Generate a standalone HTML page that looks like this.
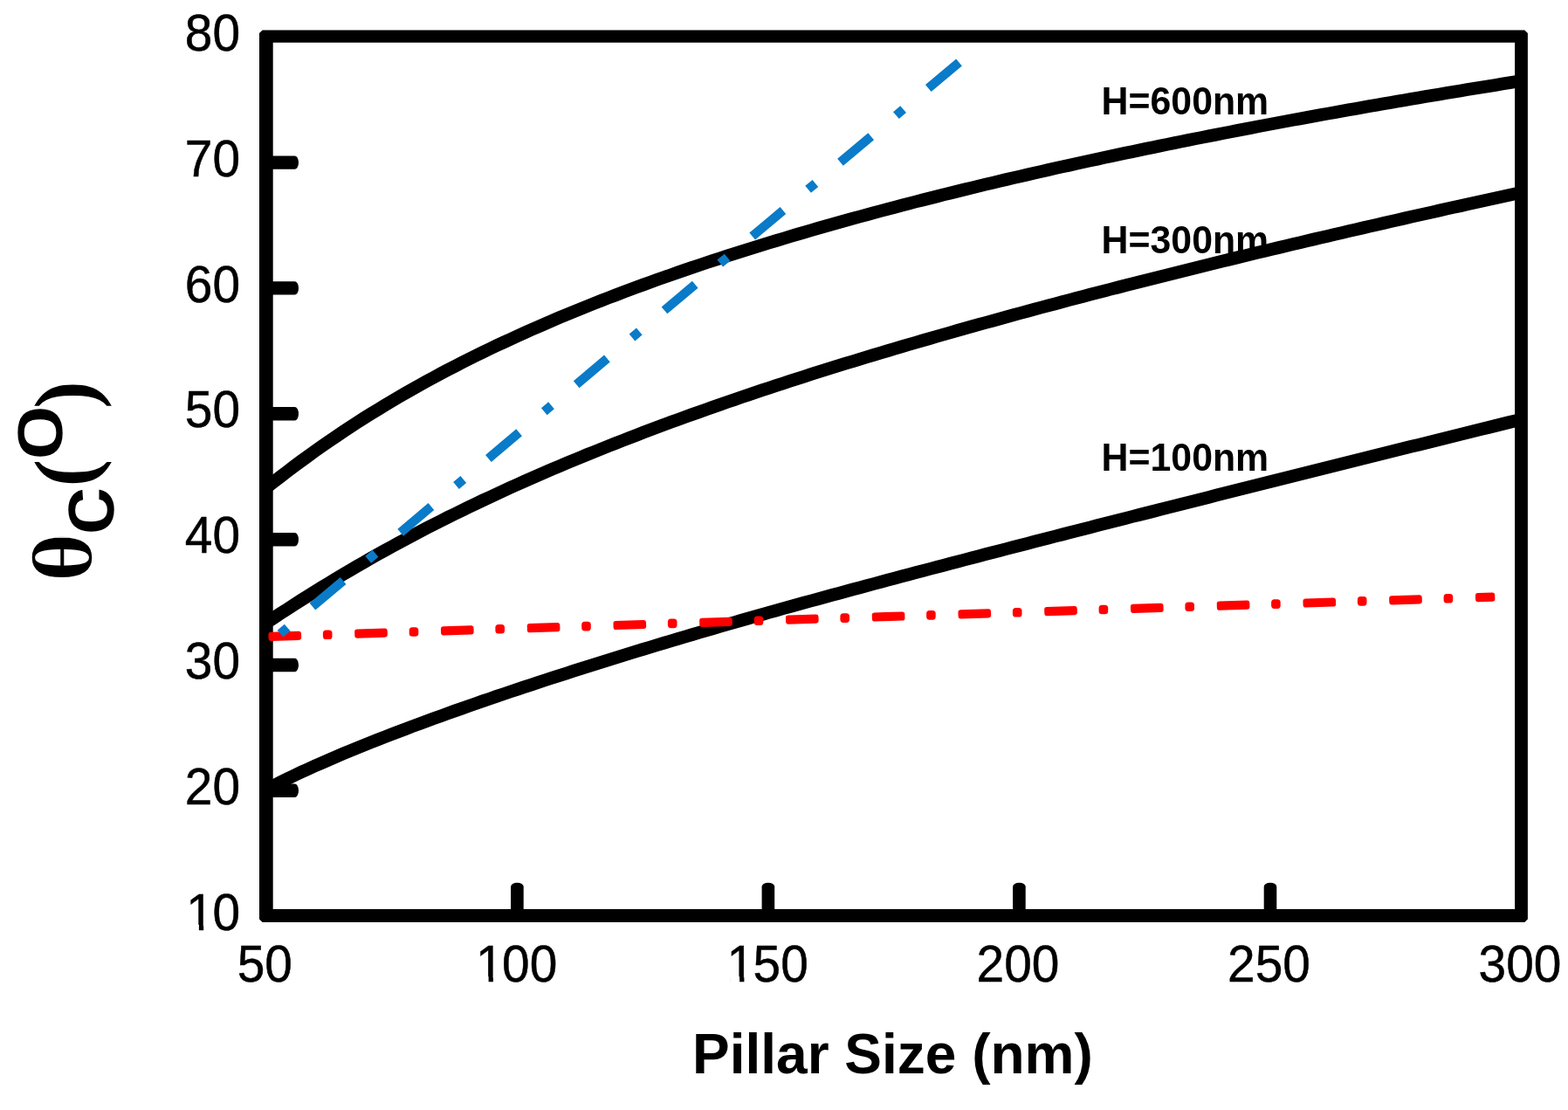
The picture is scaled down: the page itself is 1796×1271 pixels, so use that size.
<!DOCTYPE html>
<html lang="en">
<head>
<meta charset="utf-8">
<title>Critical angle versus pillar size</title>
<style>
html,body{margin:0;padding:0;background:#fff;}
body{width:1796px;height:1271px;overflow:hidden;}
svg{display:block;filter:blur(0.55px);}
text{font-family:"Liberation Sans",Arial,Helvetica,sans-serif;fill:#000;}
.tick{font-size:60px;}
.xl{font-size:64.5px;font-weight:bold;}
.lab{font-size:43.6px;font-weight:bold;}
</style>
</head>
<body>
<svg width="1796" height="1271" viewBox="0 0 1796 1271">
<rect x="0" y="0" width="1796" height="1271" fill="#ffffff"/>
<g class="lab">
<text x="1261.6" y="130.8" textLength="191.6" lengthAdjust="spacingAndGlyphs">H=600nm</text>
<text x="1261.6" y="290.2" textLength="191.6" lengthAdjust="spacingAndGlyphs">H=300nm</text>
<text x="1261.6" y="539.0" textLength="191.6" lengthAdjust="spacingAndGlyphs">H=100nm</text>
</g>
<g stroke="#000" stroke-width="14.7" fill="none" stroke-linejoin="round" stroke-linecap="butt">
<path d="M304.9,904.1 L312.9,899.9 L320.9,895.8 L328.9,891.9 L336.9,888.0 L344.9,884.2 L352.9,880.6 L360.9,876.9 L368.9,873.4 L376.9,869.9 L384.9,866.5 L392.9,863.1 L400.9,859.8 L408.9,856.5 L416.9,853.2 L424.9,850.0 L432.9,846.9 L440.9,843.7 L448.9,840.7 L456.9,837.6 L464.9,834.6 L472.9,831.5 L480.9,828.6 L488.9,825.6 L496.9,822.7 L504.9,819.8 L512.9,816.9 L520.9,814.0 L528.9,811.2 L536.9,808.4 L544.9,805.6 L552.9,802.8 L560.9,800.1 L568.9,797.3 L576.9,794.6 L584.9,791.9 L592.9,789.2 L600.9,786.5 L608.9,783.9 L616.9,781.3 L624.9,778.6 L632.9,776.0 L640.9,773.4 L648.9,770.9 L656.9,768.3 L664.9,765.7 L672.9,763.2 L680.9,760.7 L688.9,758.2 L696.9,755.7 L704.9,753.2 L712.9,750.7 L720.9,748.3 L728.9,745.8 L736.9,743.4 L744.9,741.0 L752.9,738.5 L760.9,736.1 L768.9,733.7 L776.9,731.4 L784.9,729.0 L792.9,726.6 L800.9,724.3 L808.9,721.9 L816.9,719.6 L824.9,717.3 L832.9,715.0 L840.9,712.7 L848.9,710.4 L856.9,708.1 L864.9,705.8 L872.9,703.6 L880.9,701.3 L888.9,699.1 L896.9,696.8 L904.9,694.6 L912.9,692.4 L920.9,690.2 L928.9,688.0 L936.9,685.8 L944.9,683.6 L952.9,681.4 L960.9,679.3 L968.9,677.1 L976.9,674.9 L984.9,672.8 L992.9,670.6 L1000.9,668.5 L1008.9,666.3 L1016.9,664.2 L1024.8,662.1 L1032.8,659.9 L1040.8,657.8 L1048.8,655.7 L1056.8,653.6 L1064.8,651.5 L1072.8,649.4 L1080.8,647.3 L1088.8,645.2 L1096.8,643.1 L1104.8,641.0 L1112.8,638.9 L1120.8,636.8 L1128.8,634.7 L1136.8,632.6 L1144.8,630.6 L1152.8,628.5 L1160.8,626.4 L1168.8,624.3 L1176.8,622.3 L1184.8,620.2 L1192.8,618.2 L1200.8,616.1 L1208.8,614.0 L1216.8,612.0 L1224.8,609.9 L1232.8,607.9 L1240.8,605.8 L1248.8,603.8 L1256.8,601.7 L1264.8,599.7 L1272.8,597.7 L1280.8,595.6 L1288.8,593.6 L1296.8,591.5 L1304.8,589.5 L1312.8,587.5 L1320.8,585.5 L1328.8,583.4 L1336.8,581.4 L1344.8,579.4 L1352.8,577.3 L1360.8,575.3 L1368.8,573.3 L1376.8,571.3 L1384.8,569.3 L1392.8,567.2 L1400.8,565.2 L1408.8,563.2 L1416.8,561.2 L1424.8,559.2 L1432.8,557.2 L1440.8,555.2 L1448.8,553.2 L1456.8,551.1 L1464.8,549.1 L1472.8,547.1 L1480.8,545.1 L1488.8,543.1 L1496.8,541.1 L1504.8,539.1 L1512.8,537.1 L1520.8,535.1 L1528.8,533.1 L1536.8,531.1 L1544.8,529.1 L1552.8,527.1 L1560.8,525.2 L1568.8,523.2 L1576.8,521.2 L1584.8,519.2 L1592.8,517.2 L1600.8,515.2 L1608.8,513.2 L1616.8,511.2 L1624.8,509.3 L1632.8,507.3 L1640.8,505.3 L1648.8,503.3 L1656.8,501.3 L1664.8,499.3 L1672.8,497.4 L1680.8,495.4 L1688.8,493.4 L1696.8,491.4 L1704.8,489.5 L1712.8,487.5 L1720.8,485.5 L1728.8,483.5 L1736.8,481.6 L1742.5,480.2"/>
<path d="M304.9,713.2 L312.9,708.0 L320.9,702.7 L328.9,697.6 L336.9,692.4 L344.9,687.3 L352.9,682.3 L360.9,677.3 L368.9,672.3 L376.9,667.4 L384.9,662.6 L392.9,657.8 L400.9,653.1 L408.9,648.4 L416.9,643.8 L424.9,639.2 L432.9,634.7 L440.9,630.3 L448.9,625.9 L456.9,621.5 L464.9,617.2 L472.9,613.0 L480.9,608.8 L488.9,604.6 L496.9,600.5 L504.9,596.5 L512.9,592.4 L520.9,588.5 L528.9,584.6 L536.9,580.7 L544.9,576.8 L552.9,573.0 L560.9,569.3 L568.9,565.6 L576.9,561.9 L584.9,558.2 L592.9,554.6 L600.9,551.0 L608.9,547.5 L616.9,544.0 L624.9,540.5 L632.9,537.1 L640.9,533.7 L648.9,530.3 L656.9,527.0 L664.9,523.7 L672.9,520.4 L680.9,517.2 L688.9,514.0 L696.9,510.8 L704.9,507.6 L712.9,504.5 L720.9,501.4 L728.9,498.3 L736.9,495.2 L744.9,492.2 L752.9,489.2 L760.9,486.2 L768.9,483.2 L776.9,480.3 L784.9,477.4 L792.9,474.5 L800.9,471.7 L808.9,468.8 L816.9,466.0 L824.9,463.2 L832.9,460.4 L840.9,457.7 L848.9,454.9 L856.9,452.2 L864.9,449.5 L872.9,446.8 L880.9,444.2 L888.9,441.5 L896.9,438.9 L904.9,436.3 L912.9,433.7 L920.9,431.2 L928.9,428.6 L936.9,426.1 L944.9,423.6 L952.9,421.1 L960.9,418.6 L968.9,416.1 L976.9,413.7 L984.9,411.2 L992.9,408.8 L1000.9,406.4 L1008.9,404.0 L1016.9,401.6 L1024.8,399.2 L1032.8,396.9 L1040.8,394.5 L1048.8,392.2 L1056.8,389.9 L1064.8,387.6 L1072.8,385.3 L1080.8,383.0 L1088.8,380.7 L1096.8,378.4 L1104.8,376.2 L1112.8,373.9 L1120.8,371.7 L1128.8,369.5 L1136.8,367.3 L1144.8,365.1 L1152.8,362.9 L1160.8,360.7 L1168.8,358.5 L1176.8,356.3 L1184.8,354.2 L1192.8,352.0 L1200.8,349.9 L1208.8,347.8 L1216.8,345.6 L1224.8,343.5 L1232.8,341.4 L1240.8,339.3 L1248.8,337.2 L1256.8,335.2 L1264.8,333.1 L1272.8,331.0 L1280.8,329.0 L1288.8,326.9 L1296.8,324.9 L1304.8,322.8 L1312.8,320.8 L1320.8,318.8 L1328.8,316.8 L1336.8,314.8 L1344.8,312.8 L1352.8,310.8 L1360.8,308.8 L1368.8,306.8 L1376.8,304.8 L1384.8,302.9 L1392.8,300.9 L1400.8,298.9 L1408.8,297.0 L1416.8,295.0 L1424.8,293.1 L1432.8,291.2 L1440.8,289.2 L1448.8,287.3 L1456.8,285.4 L1464.8,283.5 L1472.8,281.6 L1480.8,279.7 L1488.8,277.8 L1496.8,275.9 L1504.8,274.0 L1512.8,272.2 L1520.8,270.3 L1528.8,268.4 L1536.8,266.6 L1544.8,264.7 L1552.8,262.9 L1560.8,261.0 L1568.8,259.2 L1576.8,257.3 L1584.8,255.5 L1592.8,253.7 L1600.8,251.9 L1608.8,250.0 L1616.8,248.2 L1624.8,246.4 L1632.8,244.6 L1640.8,242.8 L1648.8,241.0 L1656.8,239.2 L1664.8,237.4 L1672.8,235.7 L1680.8,233.9 L1688.8,232.1 L1696.8,230.3 L1704.8,228.6 L1712.8,226.8 L1720.8,225.1 L1728.8,223.3 L1736.8,221.6 L1742.5,220.3"/>
<path d="M304.9,558.5 L312.9,552.3 L320.9,546.1 L328.9,540.0 L336.9,533.9 L344.9,528.0 L352.9,522.2 L360.9,516.4 L368.9,510.8 L376.9,505.2 L384.9,499.8 L392.9,494.4 L400.9,489.1 L408.9,483.9 L416.9,478.8 L424.9,473.8 L432.9,468.9 L440.9,464.0 L448.9,459.2 L456.9,454.5 L464.9,449.9 L472.9,445.3 L480.9,440.9 L488.9,436.4 L496.9,432.1 L504.9,427.8 L512.9,423.6 L520.9,419.4 L528.9,415.3 L536.9,411.3 L544.9,407.3 L552.9,403.4 L560.9,399.5 L568.9,395.7 L576.9,392.0 L584.9,388.3 L592.9,384.6 L600.9,381.0 L608.9,377.4 L616.9,373.9 L624.9,370.4 L632.9,367.0 L640.9,363.6 L648.9,360.3 L656.9,357.0 L664.9,353.7 L672.9,350.5 L680.9,347.3 L688.9,344.1 L696.9,341.0 L704.9,338.0 L712.9,334.9 L720.9,331.9 L728.9,328.9 L736.9,326.0 L744.9,323.1 L752.9,320.2 L760.9,317.4 L768.9,314.6 L776.9,311.8 L784.9,309.0 L792.9,306.3 L800.9,303.6 L808.9,300.9 L816.9,298.3 L824.9,295.7 L832.9,293.1 L840.9,290.5 L848.9,287.9 L856.9,285.4 L864.9,282.9 L872.9,280.4 L880.9,278.0 L888.9,275.6 L896.9,273.2 L904.9,270.8 L912.9,268.4 L920.9,266.1 L928.9,263.7 L936.9,261.4 L944.9,259.1 L952.9,256.9 L960.9,254.6 L968.9,252.4 L976.9,250.2 L984.9,248.0 L992.9,245.8 L1000.9,243.7 L1008.9,241.5 L1016.9,239.4 L1024.8,237.3 L1032.8,235.2 L1040.8,233.1 L1048.8,231.0 L1056.8,229.0 L1064.8,227.0 L1072.8,225.0 L1080.8,222.9 L1088.8,221.0 L1096.8,219.0 L1104.8,217.0 L1112.8,215.1 L1120.8,213.1 L1128.8,211.2 L1136.8,209.3 L1144.8,207.4 L1152.8,205.5 L1160.8,203.7 L1168.8,201.8 L1176.8,200.0 L1184.8,198.1 L1192.8,196.3 L1200.8,194.5 L1208.8,192.7 L1216.8,190.9 L1224.8,189.2 L1232.8,187.4 L1240.8,185.6 L1248.8,183.9 L1256.8,182.2 L1264.8,180.4 L1272.8,178.7 L1280.8,177.0 L1288.8,175.3 L1296.8,173.7 L1304.8,172.0 L1312.8,170.3 L1320.8,168.7 L1328.8,167.0 L1336.8,165.4 L1344.8,163.8 L1352.8,162.1 L1360.8,160.5 L1368.8,158.9 L1376.8,157.4 L1384.8,155.8 L1392.8,154.2 L1400.8,152.6 L1408.8,151.1 L1416.8,149.5 L1424.8,148.0 L1432.8,146.5 L1440.8,144.9 L1448.8,143.4 L1456.8,141.9 L1464.8,140.4 L1472.8,138.9 L1480.8,137.4 L1488.8,136.0 L1496.8,134.5 L1504.8,133.0 L1512.8,131.6 L1520.8,130.1 L1528.8,128.7 L1536.8,127.3 L1544.8,125.8 L1552.8,124.4 L1560.8,123.0 L1568.8,121.6 L1576.8,120.2 L1584.8,118.8 L1592.8,117.4 L1600.8,116.0 L1608.8,114.7 L1616.8,113.3 L1624.8,111.9 L1632.8,110.6 L1640.8,109.2 L1648.8,107.9 L1656.8,106.6 L1664.8,105.2 L1672.8,103.9 L1680.8,102.6 L1688.8,101.3 L1696.8,100.0 L1704.8,98.7 L1712.8,97.4 L1720.8,96.1 L1728.8,94.8 L1736.8,93.5 L1742.5,92.6"/>
</g>
<path d="M300.6,34.4 H1746.3000000000002 L1749.9,38.0 V1052.4 L1746.3000000000002,1056.0 H300.6 L297.0,1052.4 V38.0 Z M312.7,48.7 V1041.0 H1735.1 V48.7 Z" fill="#000" fill-rule="evenodd"/>
<g fill="#000">
<path d="M585.1,1042.0 V1015.2 A7.3,4.4 0 0 1 599.7,1015.2 V1042.0 Z"/>
<path d="M872.6,1042.0 V1015.2 A7.3,4.4 0 0 1 887.2,1015.2 V1042.0 Z"/>
<path d="M1160.1,1042.0 V1015.2 A7.3,4.4 0 0 1 1174.7,1015.2 V1042.0 Z"/>
<path d="M1447.7,1042.0 V1015.2 A7.3,4.4 0 0 1 1462.3,1015.2 V1042.0 Z"/>
<path d="M311.7,897.6 H337.6 A4.4,7.7 0 0 1 337.6,913.1 H311.7 Z"/>
<path d="M311.7,753.8 H337.6 A4.4,7.7 0 0 1 337.6,769.2 H311.7 Z"/>
<path d="M311.7,610.0 H337.6 A4.4,7.7 0 0 1 337.6,625.4 H311.7 Z"/>
<path d="M311.7,466.1 H337.6 A4.4,7.7 0 0 1 337.6,481.5 H311.7 Z"/>
<path d="M311.7,322.2 H337.6 A4.4,7.7 0 0 1 337.6,337.6 H311.7 Z"/>
<path d="M311.7,178.4 H337.6 A4.4,7.7 0 0 1 337.6,193.8 H311.7 Z"/>
</g>
<g fill="#ff0000">
<rect x="307.5" y="723.2" width="37.6" height="10.2" rx="3" transform="rotate(-1.85 326.3 728.3)"/>
<rect x="369.9" y="721.4" width="10.6" height="10.6" rx="3.6"/>
<rect x="406.2" y="720.0" width="37.6" height="10.2" rx="3" transform="rotate(-1.85 425.1 725.1)"/>
<rect x="468.7" y="718.2" width="10.6" height="10.6" rx="3.6"/>
<rect x="505.0" y="716.8" width="37.6" height="10.2" rx="3" transform="rotate(-1.85 523.8 721.9)"/>
<rect x="567.4" y="715.0" width="10.6" height="10.6" rx="3.6"/>
<rect x="603.8" y="713.6" width="37.6" height="10.2" rx="3" transform="rotate(-1.85 622.5 718.7)"/>
<rect x="666.2" y="711.8" width="10.6" height="10.6" rx="3.6"/>
<rect x="702.5" y="710.4" width="37.6" height="10.2" rx="3" transform="rotate(-1.85 721.3 715.5)"/>
<rect x="764.9" y="708.6" width="10.6" height="10.6" rx="3.6"/>
<rect x="801.2" y="707.2" width="37.6" height="10.2" rx="3" transform="rotate(-1.85 820.0 712.3)"/>
<rect x="863.7" y="705.5" width="10.6" height="10.6" rx="3.6"/>
<rect x="900.0" y="704.0" width="37.6" height="10.2" rx="3" transform="rotate(-1.85 918.8 709.1)"/>
<rect x="962.4" y="702.3" width="10.6" height="10.6" rx="3.6"/>
<rect x="998.8" y="700.9" width="37.6" height="10.2" rx="3" transform="rotate(-1.85 1017.5 706.0)"/>
<rect x="1061.1" y="699.1" width="10.6" height="10.6" rx="3.6"/>
<rect x="1097.5" y="697.7" width="37.6" height="10.2" rx="3" transform="rotate(-1.85 1116.3 702.8)"/>
<rect x="1159.9" y="695.9" width="10.6" height="10.6" rx="3.6"/>
<rect x="1196.2" y="694.5" width="37.6" height="10.2" rx="3" transform="rotate(-1.85 1215.0 699.6)"/>
<rect x="1258.6" y="692.7" width="10.6" height="10.6" rx="3.6"/>
<rect x="1295.0" y="691.3" width="37.6" height="10.2" rx="3" transform="rotate(-1.85 1313.8 696.4)"/>
<rect x="1357.4" y="689.5" width="10.6" height="10.6" rx="3.6"/>
<rect x="1393.8" y="688.1" width="37.6" height="10.2" rx="3" transform="rotate(-1.85 1412.5 693.2)"/>
<rect x="1456.1" y="686.3" width="10.6" height="10.6" rx="3.6"/>
<rect x="1492.5" y="684.9" width="37.6" height="10.2" rx="3" transform="rotate(-1.85 1511.3 690.0)"/>
<rect x="1554.9" y="683.1" width="10.6" height="10.6" rx="3.6"/>
<rect x="1591.2" y="681.7" width="37.6" height="10.2" rx="3" transform="rotate(-1.85 1610.0 686.8)"/>
<rect x="1653.6" y="679.9" width="10.6" height="10.6" rx="3.6"/>
<rect x="1690.0" y="678.8" width="22.3" height="10.2" rx="3" transform="rotate(-1.85 1701.2 683.9)"/>
</g>
<g stroke="#0a7bc8" stroke-width="10.4" stroke-linecap="butt" fill="none">
<line x1="321.0" y1="725.6" x2="329.2" y2="718.6"/>
<line x1="357.9" y1="694.5" x2="393.1" y2="664.9"/>
<line x1="421.7" y1="640.8" x2="430.0" y2="633.8"/>
<line x1="458.7" y1="609.7" x2="493.9" y2="580.1"/>
<line x1="522.5" y1="556.0" x2="530.8" y2="549.0"/>
<line x1="559.4" y1="524.9" x2="594.6" y2="495.3"/>
<line x1="623.3" y1="471.2" x2="631.5" y2="464.3"/>
<line x1="660.2" y1="440.2" x2="695.4" y2="410.5"/>
<line x1="724.0" y1="386.4" x2="732.3" y2="379.5"/>
<line x1="761.0" y1="355.4" x2="796.2" y2="325.7"/>
<line x1="824.8" y1="301.6" x2="833.1" y2="294.7"/>
<line x1="861.7" y1="270.6" x2="896.9" y2="241.0"/>
<line x1="925.6" y1="216.8" x2="933.9" y2="209.9"/>
<line x1="962.5" y1="185.8" x2="997.7" y2="156.2"/>
<line x1="1026.4" y1="132.1" x2="1034.6" y2="125.1"/>
<line x1="1063.3" y1="101.0" x2="1098.5" y2="71.4"/>
</g>
<g class="tick" stroke="#000" stroke-width="0.5">
<text transform="translate(211.80,1064.80) scale(0.9469,1)" x="1.58 33.37" y="0">10</text>
<text transform="translate(211.80,920.95) scale(0.9469,1)" x="0.00 33.37" y="0">20</text>
<text transform="translate(211.80,777.10) scale(0.9469,1)" x="0.00 33.37" y="0">30</text>
<text transform="translate(211.80,633.25) scale(0.9469,1)" x="0.00 33.37" y="0">40</text>
<text transform="translate(211.80,489.40) scale(0.9469,1)" x="0.00 33.37" y="0">50</text>
<text transform="translate(211.80,345.55) scale(0.9469,1)" x="0.00 33.37" y="0">60</text>
<text transform="translate(211.80,201.70) scale(0.9469,1)" x="0.00 33.37" y="0">70</text>
<text transform="translate(211.80,57.85) scale(0.9469,1)" x="0.00 33.37" y="0">80</text>
<text transform="translate(271.75,1124.30) scale(0.9469,1)" x="0.00 33.37" y="0">50</text>
<text transform="translate(543.48,1124.30) scale(0.9469,1)" x="1.58 33.37 66.74" y="0">100</text>
<text transform="translate(831.01,1124.30) scale(0.9469,1)" x="1.58 33.37 66.74" y="0">150</text>
<text transform="translate(1118.54,1124.30) scale(0.9469,1)" x="0.00 33.37 66.74" y="0">200</text>
<text transform="translate(1406.07,1124.30) scale(0.9469,1)" x="0.00 33.37 66.74" y="0">250</text>
<text transform="translate(1693.60,1124.30) scale(0.9469,1)" x="0.00 33.37 66.74" y="0">300</text>
</g>
<g fill="#fff">
<rect x="216.9" y="1058.8" width="11.0" height="7.2"/>
<rect x="233.2" y="1058.8" width="10.8" height="7.2"/>
<rect x="548.6" y="1118.3" width="11.0" height="7.2"/>
<rect x="564.9" y="1118.3" width="10.8" height="7.2"/>
<rect x="836.1" y="1118.3" width="11.0" height="7.2"/>
<rect x="852.4" y="1118.3" width="10.8" height="7.2"/>
</g>
<text class="xl" x="793.0" y="1229.2" textLength="458.8" lengthAdjust="spacingAndGlyphs">Pillar Size (nm)</text>
<g font-size="100">
<text transform="translate(104.81,666.14) rotate(-90) scale(1.0748,0.9742)" x="0" y="0" font-weight="bold" style="font-family:'Liberation Serif',serif" stroke="#fff" stroke-width="1.4">θ</text>
<text transform="translate(129.13,612.54) rotate(-90) scale(1.0738,0.9238)" x="0" y="0" font-weight="normal" style="font-family:'Liberation Sans',sans-serif" stroke="#000" stroke-width="1.6">c</text>
<text transform="translate(107.01,557.15) rotate(-90) scale(0.9385,0.9711)" x="0" y="0" font-weight="bold" style="font-family:'Liberation Serif',serif" >(</text>
<text transform="translate(69.96,526.58) rotate(-90) scale(1.1150,0.9078)" x="0" y="0" font-weight="normal" style="font-family:'Liberation Sans',sans-serif" stroke="#000" stroke-width="1.6">o</text>
<text transform="translate(107.01,467.83) rotate(-90) scale(0.9423,0.9711)" x="0" y="0" font-weight="bold" style="font-family:'Liberation Serif',serif" >)</text>
</g>
</svg>
</body>
</html>
